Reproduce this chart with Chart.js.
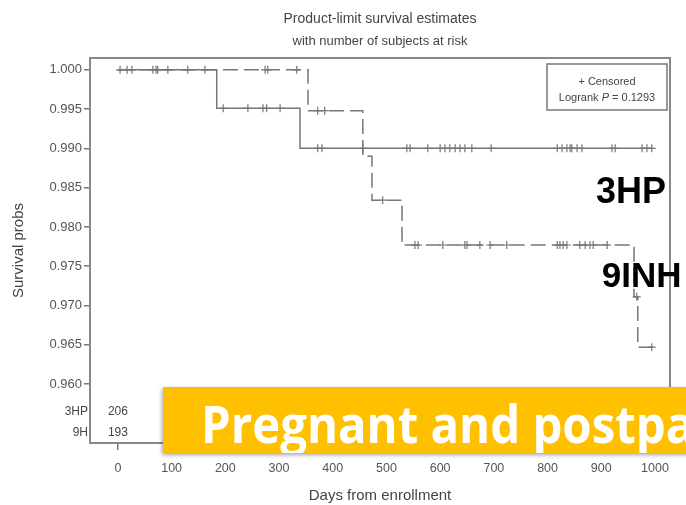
<!DOCTYPE html>
<html>
<head>
<meta charset="utf-8">
<script src="https://cdn.jsdelivr.net/npm/chart.js@4/dist/chart.umd.min.js"></script>
<style>
  html, body { margin: 0; padding: 0; background: #fff; overflow: hidden; }
  #wrap { position: relative; width: 686px; height: 505px; overflow: hidden; }
  #banner {
    position: absolute; left: 163px; top: 387px; width: 560px; height: 66px;
    background: #ffc000; box-shadow: -1px 2px 4px rgba(0,0,0,0.35);
    overflow: hidden;
  }
  #banner span {
    position: absolute; left: 38px; top: 0; line-height: 66px;
    font: bold 52px 'Open Sans', sans-serif; color: #fff; white-space: nowrap;
    transform: scaleX(0.91); transform-origin: left center;
  }
</style>
</head>
<body>
<div id="wrap">
  <canvas id="km" width="686" height="505"></canvas>
  <div id="banner"><span>Pregnant and postpartum</span></div>
</div>
<script>
// step points of the Kaplan-Meier curves (day, survival)
var days3HP = [0, 184, 339, 996];
var surv3HP = [1.000, 0.9951, 0.9900, 0.9900];
var days9INH = [0, 354, 456, 473, 529, 961, 968, 996];
var surv9INH = [1.000, 0.9948, 0.9890, 0.9834, 0.9777, 0.9711, 0.9647, 0.9647];

// censored observations (days)
var cens3HP = [4, 26, 65, 74, 130, 196, 242, 270, 277, 302, 372, 380, 456, 538, 544, 577, 600, 609, 618,
               628, 637, 646, 659, 695, 818, 827, 836, 842, 845, 855, 864, 920, 926, 976, 985, 994];
var cens9INH = [17, 71, 93, 162, 274, 279, 333, 372, 385, 493, 553, 559, 605, 646, 650, 674, 693, 724,
                818, 823, 829, 836, 860, 870, 879, 885, 911, 966, 994];

// number at risk table
var riskDays = [0];
var risk3HP = [206];
var risk9H = [193];

var xTicks = [0, 100, 200, 300, 400, 500, 600, 700, 800, 900, 1000];
var yTicks = [0.960, 0.965, 0.970, 0.975, 0.980, 0.985, 0.990, 0.995, 1.000];

var FONT = "'Liberation Sans', Arial, sans-serif";
var GREY = '#777';

function steps(days, surv) {
    return days.map(function (d, i) { return {x: d, y: surv[i]}; });
}
function survAt(days, surv, t) {
    var s = surv[0];
    for (var i = 0; i < days.length; i++) {
        if (days[i] <= t) s = surv[i];
    }
    return s;
}
function marks(cens, days, surv) {
    return cens.map(function (d) { return {x: d, y: survAt(days, surv, d)}; });
}

var extras = {
    id: 'extras',
    afterDraw: function (chart) {
        var ctx = chart.ctx;
        var a = chart.chartArea;
        var xs = chart.scales.x, ys = chart.scales.y;
        ctx.save();

        // frame
        ctx.strokeStyle = '#888';
        ctx.lineWidth = 2;
        ctx.strokeRect(a.left, a.top, a.right - a.left, a.bottom - a.top);

        // legend box
        var bx = a.right - 123, by = a.top + 6, bw = 120, bh = 46;
        ctx.lineWidth = 1.5;
        ctx.strokeStyle = '#777';
        ctx.strokeRect(bx, by, bw, bh);
        ctx.fillStyle = '#444';
        ctx.textBaseline = 'middle';
        ctx.textAlign = 'center';
        ctx.font = '11px ' + FONT;
        ctx.fillText('+ Censored', bx + bw / 2, by + 18);
        var p1 = 'Logrank ', p2 = 'P', p3 = ' = 0.1293';
        var w1 = ctx.measureText(p1).width, w3 = ctx.measureText(p3).width;
        ctx.font = 'italic 11px ' + FONT;
        var w2 = ctx.measureText(p2).width;
        var sx = bx + bw / 2 - (w1 + w2 + w3) / 2;
        ctx.textAlign = 'left';
        ctx.font = '11px ' + FONT;
        ctx.fillText(p1, sx, by + 34);
        ctx.font = 'italic 11px ' + FONT;
        ctx.fillText(p2, sx + w1, by + 34);
        ctx.font = '11px ' + FONT;
        ctx.fillText(p3, sx + w1 + w2, by + 34);

        // number at risk
        ctx.font = '12px ' + FONT;
        ctx.fillStyle = '#444';
        ctx.textAlign = 'right';
        ctx.fillText('3HP', a.left - 2, a.bottom - 31);
        ctx.fillText('9H', a.left - 2, a.bottom - 10);
        ctx.textAlign = 'center';
        riskDays.forEach(function (d, i) {
            ctx.fillText(String(risk3HP[i]), xs.getPixelForValue(d), a.bottom - 31);
            ctx.fillText(String(risk9H[i]), xs.getPixelForValue(d), a.bottom - 10);
        });

        // group labels
        ctx.fillStyle = '#000';
        ctx.textAlign = 'left';
        ctx.textBaseline = 'alphabetic';
        ctx.font = 'bold 36px ' + FONT;
        ctx.fillText('3HP', xs.getPixelForValue(890), ys.getPixelForValue(0.9831));
        ctx.font = 'bold 35px ' + FONT;
        ctx.fillText('9INH', xs.getPixelForValue(901), ys.getPixelForValue(0.9724));
        ctx.restore();
    }
};

new Chart(document.getElementById('km'), {
    type: 'line',
    data: {
        datasets: [{
            label: '3HP',
            data: steps(days3HP, surv3HP),
            stepped: true,
            borderColor: GREY,
            borderWidth: 1.5,
            pointRadius: 0,
            fill: false
        }, {
            label: '9INH',
            data: steps(days9INH, surv9INH),
            stepped: true,
            borderColor: GREY,
            borderWidth: 1.5,
            borderDash: [15, 6],
            pointRadius: 0,
            fill: false
        }, {
            label: 'Censored 3HP',
            data: marks(cens3HP, days3HP, surv3HP),
            showLine: false,
            pointStyle: 'cross',
            pointRadius: 4,
            borderColor: GREY,
            borderWidth: 1.2
        }, {
            label: 'Censored 9INH',
            data: marks(cens9INH, days9INH, surv9INH),
            showLine: false,
            pointStyle: 'cross',
            pointRadius: 4,
            borderColor: GREY,
            borderWidth: 1.2
        }]
    },
    options: {
        responsive: false,
        animation: false,
        layout: {padding: {left: 0, right: 16, top: 0, bottom: 0}},
        plugins: {
            legend: {display: false},
            tooltip: {enabled: false},
            title: {
                display: true,
                fullSize: false,
                text: 'Product-limit survival estimates',
                color: '#444',
                font: {family: FONT, size: 14, weight: 'normal'},
                padding: {top: 11, bottom: 4}
            },
            subtitle: {
                display: true,
                fullSize: false,
                text: 'with number of subjects at risk',
                color: '#444',
                font: {family: FONT, size: 13},
                padding: {top: 2, bottom: 8.6}
            }
        },
        scales: {
            x: {
                type: 'linear',
                min: -52,
                max: 1028,
                afterBuildTicks: function (s) { s.ticks = xTicks.map(function (v) { return {value: v}; }); },
                afterFit: function (s) { s.height = 62; },
                ticks: {color: '#555', font: {family: FONT, size: 12.5}, padding: 11, maxRotation: 0, autoSkip: false,
                        callback: function (v) { return String(v); }},
                grid: {drawOnChartArea: false, drawTicks: true, tickLength: 7, color: GREY, lineWidth: 1.5},
                border: {display: false},
                title: {display: true, text: 'Days from enrollment', color: '#444',
                        font: {family: FONT, size: 15}, padding: {top: 0, bottom: 0}}
            },
            y: {
                type: 'linear',
                min: 0.9525,
                max: 1.0015,
                afterBuildTicks: function (s) { s.ticks = yTicks.map(function (v) { return {value: v}; }); },
                afterFit: function (s) { s.width = 90; },
                ticks: {color: '#555', font: {family: FONT, size: 13}, padding: 2,
                        callback: function (v) { return v.toFixed(3); }},
                grid: {drawOnChartArea: false, drawTicks: true, tickLength: 6, color: GREY, lineWidth: 1.5},
                border: {display: false},
                title: {display: true, text: 'Survival probs', color: '#444',
                        font: {family: FONT, size: 15}, padding: {top: 10, bottom: 0}}
            }
        }
    },
    plugins: [extras]
});
</script>
</body>
</html>
